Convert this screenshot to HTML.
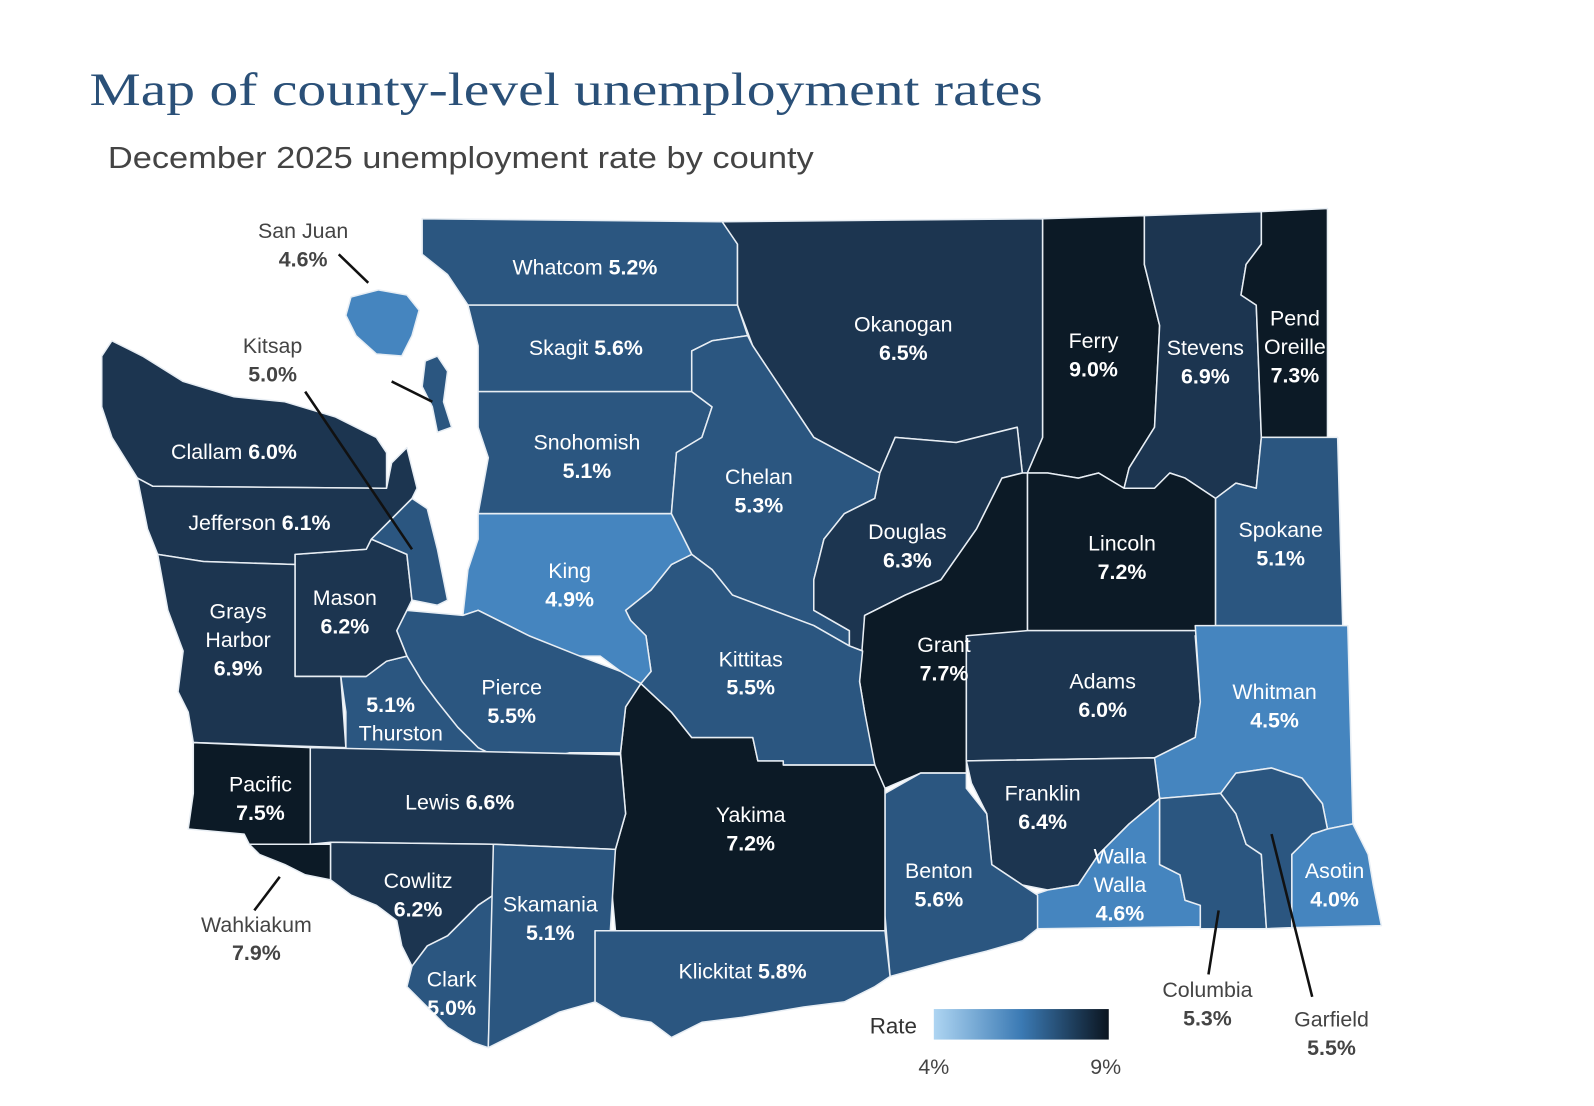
<!DOCTYPE html>
<html><head><meta charset="utf-8"><style>
html,body{margin:0;padding:0;background:#fff;}
svg{display:block;}
.lbl{font-family:"Liberation Sans",sans-serif;font-size:21px;fill:#fff;text-anchor:middle;}
.pct{font-weight:bold;}
.out{fill:#444;}
</style></head><body>
<svg id="map" width="1594" height="1106" viewBox="0 0 1567 1087.3" xmlns="http://www.w3.org/2000/svg">
<text x="88" y="103" font-family="Liberation Serif,serif" font-size="46" fill="#2a5078" textLength="937" lengthAdjust="spacingAndGlyphs">Map of county-level unemployment rates</text>
<text x="106" y="165" font-family="Liberation Sans,sans-serif" font-size="30" fill="#444" textLength="694" lengthAdjust="spacingAndGlyphs">December 2025 unemployment rate by county</text>
<g id="counties"></g>
<g id="labels"></g>
<g id="leaders" stroke="#111" stroke-width="2.5"></g>
<defs><linearGradient id="lg" x1="0" x2="1"><stop offset="0" stop-color="#aed5f2"/><stop offset="0.5" stop-color="#3b7ab4"/><stop offset="1" stop-color="#0b1520"/></linearGradient></defs>
<g>
<text x="855" y="1016" font-family="Liberation Sans,sans-serif" font-size="22" fill="#333">Rate</text>
<rect x="918" y="992" width="172" height="30" fill="url(#lg)"/>
<text x="918" y="1056" font-family="Liberation Sans,sans-serif" font-size="21" fill="#444" text-anchor="middle">4%</text>
<text x="1087" y="1056" font-family="Liberation Sans,sans-serif" font-size="21" fill="#444" text-anchor="middle">9%</text>
</g>
</svg>
<script>
const countyNames=["Whatcom","Okanogan","Ferry","Stevens","Pend Oreille","Skagit","Snohomish","Chelan","Douglas","Lincoln","Grant","Spokane","Adams","Whitman","Franklin","Walla Walla","Columbia","Garfield","Asotin","Benton","Yakima","Kittitas","King","Pierce","Thurston","Mason","Kitsap","Clallam","Jefferson","Grays Harbor","Pacific","Wahkiakum","Lewis","Cowlitz","Clark","Skamania","Klickitat","San Juan","Island"];
const rates=[5.2,6.5,9.0,6.9,7.3,5.6,5.1,5.3,6.3,7.2,7.7,5.1,6.0,4.5,6.4,4.6,5.3,5.5,4.0,5.6,7.2,5.5,4.9,5.5,5.1,6.2,5.0,6.0,6.1,6.9,7.5,7.9,6.6,6.2,5.0,5.1,5.8,4.6,5.4];
const shapes={
"Whatcom":"415,215 710,218 725,240 725,300 460,300 440,270 415,250",
"Okanogan":"710,218 1025,215 1025,430 1010,465 1005,465 1000,420 940,435 880,430 865,465 800,430 760,370 740,340 725,300 725,240",
"Ferry":"1025,215 1125,212 1125,260 1140,320 1135,420 1110,460 1105,480 1080,465 1060,470 1030,465 1010,465 1025,430",
"Stevens":"1125,212 1240,208 1240,240 1225,260 1220,290 1235,300 1240,430 1235,480 1215,475 1195,490 1165,470 1150,465 1135,480 1105,480 1110,460 1135,420 1140,320 1125,260",
"Pend Oreille":"1240,208 1305,205 1305,430 1240,430 1235,300 1220,290 1225,260 1240,240",
"Skagit":"460,300 725,300 735,330 700,335 680,345 680,385 470,385 470,340",
"Snohomish":"470,385 680,385 700,400 690,430 665,445 660,505 470,505 480,450 470,420",
"Chelan":"680,345 700,335 735,330 740,340 760,370 800,430 865,465 860,490 830,505 810,530 800,570 800,600 835,620 835,635 800,615 720,585 700,560 680,545 660,505 665,445 690,430 700,400 680,385",
"Douglas":"865,465 880,430 940,435 1000,420 1005,465 985,470 975,490 960,520 925,570 890,585 850,605 848,640 835,635 835,620 800,600 800,570 810,530 830,505 860,490",
"Lincoln":"1010,465 1030,465 1060,470 1080,465 1105,480 1135,480 1150,465 1165,470 1195,490 1195,620 1010,620",
"Grant":"1005,465 1010,465 1010,625 950,625 950,760 905,760 870,775 860,760 850,700 845,670 850,605 890,585 925,570 960,520 975,490 985,470",
"Spokane":"1240,430 1315,430 1320,615 1195,615 1195,490 1215,475 1235,480",
"Adams":"1010,620 1195,620 1175,625 1180,690 1175,725 1135,745 950,748 950,625",
"Whitman":"1175,615 1325,615 1330,810 1305,815 1300,790 1280,765 1250,755 1215,760 1200,780 1140,785 1135,745 1175,725 1180,690",
"Franklin":"950,748 1135,745 1140,785 1110,810 1080,840 1060,870 1030,875 1005,870 975,850 970,800 955,770",
"Walla Walla":"1060,870 1080,840 1110,810 1140,785 1140,850 1160,860 1165,885 1180,890 1180,911 1020,913 1015,880 1030,875",
"Columbia":"1140,785 1200,780 1215,800 1225,830 1240,840 1245,913 1180,913 1180,890 1165,885 1160,860 1140,850",
"Garfield":"1200,780 1215,760 1250,755 1280,765 1300,790 1305,815 1290,820 1270,840 1270,912 1245,913 1240,840 1225,830 1215,800",
"Asotin":"1270,840 1290,820 1305,815 1330,810 1345,840 1350,870 1358,910 1270,912",
"Benton":"870,780 905,760 950,760 950,775 970,800 975,850 1005,870 1020,880 1020,913 1005,925 970,935 930,945 875,960 870,900",
"Yakima":"615,695 630,672 660,700 680,725 740,725 745,748 770,748 770,752 860,752 870,775 870,915 605,915 600,860 605,835 615,800 610,740",
"Kittitas":"615,600 640,580 660,555 680,545 700,560 720,585 800,615 835,635 848,640 845,670 850,700 860,752 770,752 770,748 745,748 740,725 680,725 660,700 630,672 640,660 635,625 620,610",
"King":"470,505 660,505 680,545 660,555 640,580 615,600 620,610 635,625 640,660 630,672 610,660 590,645 570,645 540,640 520,625 500,615 470,600 455,605 460,560 470,530",
"Pierce":"400,600 455,605 470,600 500,615 520,625 570,645 610,660 630,672 615,695 610,740 560,740 520,750 490,745 470,735 450,715 430,690 415,670 400,645 390,620",
"Thurston":"335,665 360,665 380,650 400,645 415,670 430,690 450,715 470,735 490,745 340,742 340,700",
"Mason":"290,545 360,540 365,530 400,545 405,590 400,600 390,620 400,645 380,650 360,665 290,665",
"Kitsap":"365,530 390,505 405,490 420,500 430,540 440,590 430,595 405,590 400,545",
"Clallam":"100,350 110,335 140,350 180,375 230,390 280,395 330,410 370,430 380,445 380,480 150,478 135,470 110,430 100,400",
"Jefferson":"135,470 150,478 380,480 385,455 400,440 410,480 405,490 390,505 365,530 360,540 290,545 290,555 200,552 155,545 145,520",
"Grays Harbor":"155,545 200,552 290,555 290,665 335,665 340,735 190,730 185,700 175,680 180,640 165,600",
"Pacific":"190,730 305,735 305,830 245,830 240,820 185,815 190,780",
"Wahkiakum":"245,830 325,830 325,865 300,860 280,850 255,840",
"Lewis":"305,735 610,742 615,800 605,835 485,830 325,828 305,830",
"Cowlitz":"325,828 485,830 485,880 470,890 455,905 440,920 420,930 405,950 395,930 390,905 370,890 345,880 325,865",
"Clark":"405,950 420,930 440,920 470,890 485,880 480,1030 465,1025 440,1010 420,990 400,970",
"Skamania":"485,830 605,835 600,915 585,915 585,985 550,995 520,1010 480,1030",
"Klickitat":"585,915 870,915 875,960 860,970 830,985 790,990 730,1000 690,1005 660,1020 640,1005 610,1000 585,985",
"San Juan":"345,292 372,285 400,290 412,305 405,330 395,350 370,348 350,330 340,310",
"Island":"418,355 430,350 440,365 436,395 444,420 430,425 425,400 415,380"
};
const labelPos={
"Whatcom":[575,270,1,"inline"],"Okanogan":[888,326,1],"Ferry":[1075,342,1],"Stevens":[1185,349,1],"Pend Oreille":[1273,320,1,"Pend|Oreille"],
"Skagit":[576,349,1,"inline"],"Snohomish":[577,442,1],"Chelan":[746,476,1],"Douglas":[892,530,1],"Lincoln":[1103,541,1],"Grant":[928,641,1],
"Spokane":[1259,528,1],"Adams":[1084,677,1],"Whitman":[1253,687,1],"Franklin":[1025,787,1],"Walla Walla":[1101,849,1,"Walla|Walla"],
"Columbia":[1187,980,0],"Garfield":[1309,1009,0],"Asotin":[1312,863,1],"Benton":[923,863,1],"Yakima":[738,808,1],"Kittitas":[738,655,1],
"King":[560,568,1],"Pierce":[503,683,1],"Thurston":[390,700,1,"thurston"],"Mason":[339,595,1],"Kitsap":[268,347,0],"Clallam":[230,451,1,"inline"],
"Jefferson":[255,521,1,"inline"],"Grays Harbor":[234,608,1,"Grays|Harbor"],"Pacific":[256,778,1],"Wahkiakum":[252,916,0],"Lewis":[452,796,1,"inline"],
"Cowlitz":[411,873,1],"Clark":[444,970,1],"Skamania":[541,896,1],"Klickitat":[730,962,1,"inline"],"San Juan":[298,234,0],"Island":[356,365,1]
};
function colorFor(r){ if(r<5) return "#4585bf"; if(r<6) return "#2b5680"; if(r<7) return "#1c3550"; return "#0c1a26"; }
const NS="http://www.w3.org/2000/svg";
const gC=document.getElementById('counties'), gL=document.getElementById('labels');
function txt(x,y,s,cls){const t=document.createElementNS(NS,'text');t.setAttribute('x',x);t.setAttribute('y',y);t.setAttribute('class',cls);t.textContent=s;gL.appendChild(t);return t;}
countyNames.forEach((n,i)=>{
  const p=document.createElementNS(NS,'polygon');
  p.setAttribute('points',shapes[n]);
  p.setAttribute('fill',colorFor(rates[i]));
  p.setAttribute('stroke','#e8eef4');p.setAttribute('stroke-width','1.5');p.setAttribute('stroke-linejoin','round');
  
  
  gC.appendChild(p);
  const L=labelPos[n]; const pct=rates[i].toFixed(1)+'%';
  const base=L[2]?'lbl':'lbl out';
  let t;
  if(L[3]==='inline'){ t=txt(L[0],L[1],n+'  ',base); const s=document.createElementNS(NS,'tspan');s.setAttribute('class','pct');s.textContent=pct;t.appendChild(s);}
  else if(L[3]==='thurston'){ t=txt(L[0]-6,L[1],pct,base+' pct'); txt(L[0]+4,L[1]+28,'Thurston',base);}
  else { const lines=(L[3]||n).split('|'); lines.forEach((ln,k)=>txt(L[0],L[1]+k*28,ln,base)); t=txt(L[0],L[1]+lines.length*28,pct,base+' pct'); }
  
  
});
const leaders=[[333,250,362,278],[385,375,425,395],[300,385,405,540],[250,895,275,862],[1188,958,1198,895],[1290,980,1250,820]];
const gK=document.getElementById('leaders');
leaders.forEach(l=>{const e=document.createElementNS(NS,'line');e.setAttribute('x1',l[0]);e.setAttribute('y1',l[1]);e.setAttribute('x2',l[2]);e.setAttribute('y2',l[3]);


gK.appendChild(e);});
</script>
</body></html>
